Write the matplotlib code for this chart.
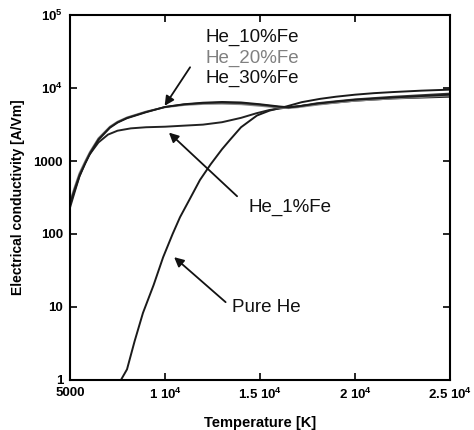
import numpy as np
import matplotlib.pyplot as plt

plt.rcParams['font.family'] = ['Liberation Sans', 'DejaVu Sans']
plt.rcParams['mathtext.fontset'] = 'custom'
plt.rcParams['mathtext.rm'] = 'Liberation Sans:bold'
plt.rcParams['mathtext.default'] = 'rm'

# values (T in K, conductivity in A/Vm)
t_pure = [7680, 8000, 8400, 8840, 9400, 9900, 10400, 10790, 11300, 11840, 12400, 13000,
          13420, 14000, 14840, 15500, 16400, 17200, 18160, 19000, 20000, 21000, 22000, 23500, 25000]
s_pure = [1, 1.4, 3.4, 8.3, 20, 48, 100, 170, 300, 550, 900, 1450,
          1950, 2900, 4200, 4900, 5600, 6400, 7100, 7600, 8100, 8500, 8800, 9200, 9500]

t_fe = [5000, 5250, 5500, 5800, 6050, 6500, 7100, 7500, 8000, 9000, 10000, 11000, 12000,
        13000, 14000, 15000, 16000, 16500, 17000, 18000, 19000, 20000, 22000, 25000]
s_fe10 = [265, 420, 650, 950, 1290, 2000, 2900, 3400, 3900, 4700, 5500, 5950, 6200,
          6300, 6200, 5900, 5500, 5400, 5600, 6200, 6600, 7000, 7600, 8400]
s_fe20 = [280, 440, 680, 990, 1330, 2050, 2950, 3450, 3950, 4750, 5450, 5850, 6050,
          6100, 6000, 5700, 5400, 5300, 5450, 5900, 6300, 6700, 7200, 7900]
s_fe30 = [250, 400, 620, 920, 1250, 1950, 2850, 3350, 3850, 4650, 5500, 6000, 6300,
          6450, 6350, 6000, 5600, 5450, 5600, 6100, 6500, 6900, 7400, 8100]

t_fe1 = [5000, 5250, 5500, 5800, 6000, 6500, 7000, 7500, 8200, 9000, 10000, 11000, 12000, 13000,
         14000, 14800, 15500, 16400, 18000, 20000, 22000, 25000]
s_fe1 = [230, 380, 620, 950, 1200, 1800, 2300, 2600, 2800, 2900, 2950, 3050, 3150, 3400,
         3900, 4500, 5000, 5400, 6000, 6700, 7200, 7600]

x_ticks = [5000, 10000, 15000, 20000, 25000]
x_ticklabels = ['5000', '1 10$^{4}$', '1.5 10$^{4}$', '2 10$^{4}$', '2.5 10$^{4}$']
y_ticks = [1, 10, 100, 1000, 1e4, 1e5]
y_ticklabels = ['1', '10', '100', '1000', '10$^{4}$', '10$^{5}$']

fig = plt.figure(figsize=(4.74, 4.30), dpi=100)
ax = fig.add_axes([0.1477, 0.1163, 0.8017, 0.8488])

ax.plot(t_pure, s_pure, color='#1a1a1a', lw=1.4)
ax.plot(t_fe1, s_fe1, color='#222222', lw=1.4)
ax.plot(t_fe, s_fe20, color='#8a8a8a', lw=1.4)
ax.plot(t_fe, s_fe10, color='#333333', lw=1.3)
ax.plot(t_fe, s_fe30, color='#1a1a1a', lw=1.3)

ax.set_yscale('log')
ax.set_xlim(5000, 25000)
ax.set_ylim(1, 1e5)
ax.set_xticks(x_ticks)
ax.set_xticklabels(x_ticklabels, fontsize=9.5, fontweight='bold')
ax.set_yticks(y_ticks)
ax.set_yticklabels(y_ticklabels, fontsize=9.5, fontweight='bold')
ax.minorticks_off()
ax.tick_params(direction='in', top=True, right=True, length=5, width=1.2, pad=5)
for s in ax.spines.values():
    s.set_linewidth(1.5)

ax.set_xlabel('Temperature [K]', fontsize=10.5, fontweight='bold', labelpad=10)
ax.set_ylabel('Electrical conductivity [A/Vm]', fontsize=10, fontweight='bold', labelpad=6)

# annotations
tx = 5000 + (205 - 70) / 19 * 1000
ax.text(tx, 10 ** ((380 - 37) / 73), 'He_10%Fe', fontsize=13.5, color='#111111', va='center')
ax.text(tx, 10 ** ((380 - 58) / 73), 'He_20%Fe', fontsize=13.5, color='#808080', va='center')
ax.text(tx, 10 ** ((380 - 78) / 73), 'He_30%Fe', fontsize=13.5, color='#111111', va='center')
ax.annotate('', xy=(9900, 5300), xytext=(11400, 2.07e4),
            arrowprops=dict(arrowstyle='-|>', color='#111111', lw=1.3, mutation_scale=14))

ax.text(14400, 10 ** ((380 - 207) / 73), 'He_1%Fe', fontsize=13.5, color='#111111', va='center')
ax.annotate('', xy=(10100, 2600), xytext=(13900, 310),
            arrowprops=dict(arrowstyle='-|>', color='#111111', lw=1.3, mutation_scale=14))

ax.text(13500, 10 ** ((380 - 308) / 73), 'Pure He', fontsize=13.5, color='#111111', va='center')
ax.annotate('', xy=(10370, 51), xytext=(13300, 11),
            arrowprops=dict(arrowstyle='-|>', color='#111111', lw=1.3, mutation_scale=14))

fig.savefig('out.png', dpi=100)
